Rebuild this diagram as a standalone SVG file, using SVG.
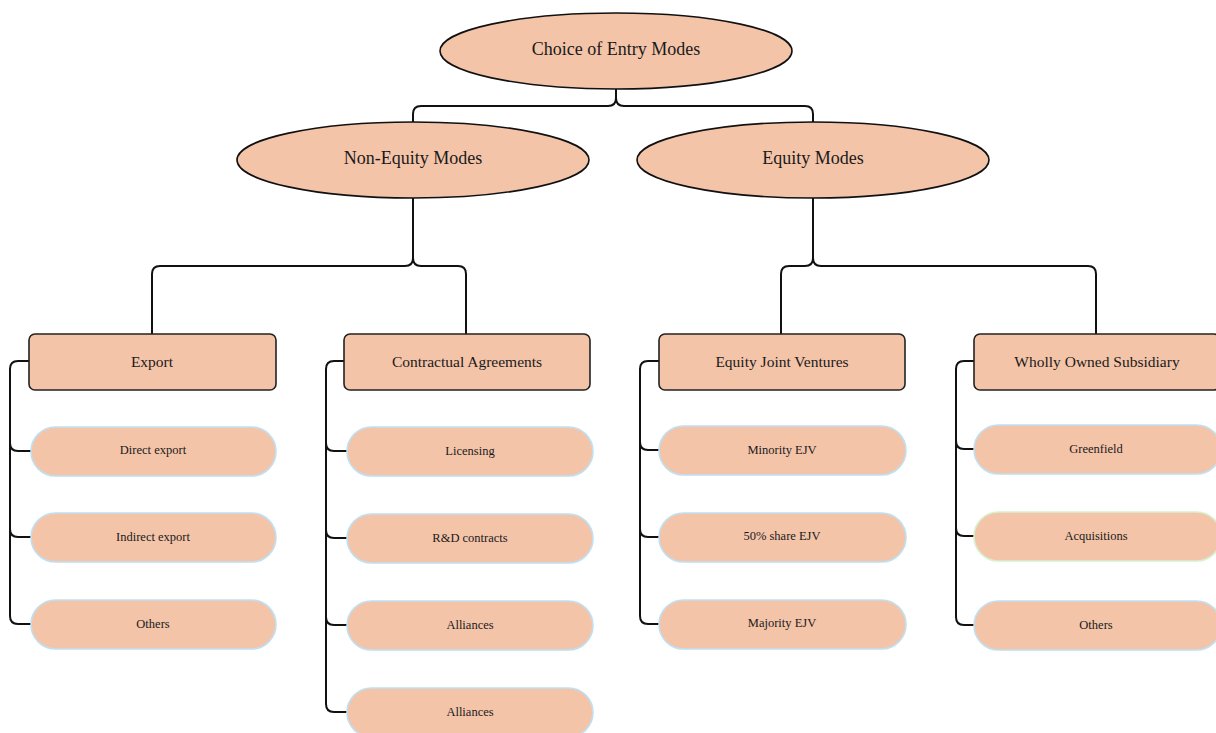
<svg xmlns="http://www.w3.org/2000/svg" width="1216" height="733" viewBox="0 0 1216 733">
<style>
.ell{fill:#f4c4a9;stroke:#111;stroke-width:1.6}
.box{fill:#f4c4a9;stroke:#222;stroke-width:1.6}
.pill{fill:#f4c4a9;stroke:#bfe0f2;stroke-width:1.6}
.pillg{fill:#f4c4a9;stroke:#d6f0cf;stroke-width:1.6}
.con{fill:none;stroke:#111;stroke-width:2}
text{font-family:"Liberation Serif","Times New Roman",serif;fill:#1a1a1a;text-anchor:middle;dominant-baseline:central}
.t1{font-size:18px}
.t2{font-size:15.5px}
.t3{font-size:12.5px}
</style>
<rect width="1216" height="733" fill="#fff"/>
<g id="connectors">
<path class="con" d="M616 89 V98 Q616 106 608 106 H421 Q413 106 413 114 V124 M616 98 Q616 106 624 106 H805 Q813 106 813 114 V124"/>
<path class="con" d="M413 197 V258 Q413 266 405 266 H160 Q152 266 152 274 V334 M413 258 Q413 266 421 266 H458 Q466 266 466 274 V334"/>
<path class="con" d="M813 197 V258 Q813 266 805 266 H789 Q781 266 781 274 V334 M813 258 Q813 266 821 266 H1088 Q1096 266 1096 274 V334"/>
<path class="con" d="M29 361 H18 Q10 361 10 369 V616 Q10 624 18 624 H31 M10 443 Q10 451 18 451 H31 M10 529 Q10 537 18 537 H31"/>
<path class="con" d="M344 361 H334 Q326 361 326 369 V704 Q326 712 334 712 H347 M326 443 Q326 451 334 451 H347 M326 530 Q326 538 334 538 H347 M326 617 Q326 625 334 625 H347"/>
<path class="con" d="M659 361 H648 Q640 361 640 369 V616 Q640 624 648 624 H659 M640 442 Q640 450 648 450 H659 M640 529 Q640 537 648 537 H659"/>
<path class="con" d="M974 361 H964 Q956 361 956 369 V617 Q956 625 964 625 H974 M956 441 Q956 449 964 449 H974 M956 528 Q956 536 964 536 H974"/>
</g>
<g id="root"><ellipse class="ell" cx="616" cy="51" rx="176" ry="38"/><text class="t1" x="616" y="49">Choice of Entry Modes</text></g>
<g id="nonequity"><ellipse class="ell" cx="413" cy="160" rx="176" ry="38"/><text class="t1" x="413" y="158">Non-Equity Modes</text></g>
<g id="equity"><ellipse class="ell" cx="813" cy="160" rx="176" ry="38"/><text class="t1" x="813" y="158">Equity Modes</text></g>
<g id="export"><rect class="box" x="29" y="334" width="247" height="56" rx="6"/><text class="t2" x="152" y="361">Export</text></g>
<g id="contractual"><rect class="box" x="344" y="334" width="246" height="56" rx="6"/><text class="t2" x="467" y="361">Contractual Agreements</text></g>
<g id="ejv"><rect class="box" x="659" y="334" width="246" height="56" rx="6"/><text class="t2" x="782" y="361">Equity Joint Ventures</text></g>
<g id="wos"><rect class="box" x="974" y="334" width="246" height="56" rx="6"/><text class="t2" x="1097" y="361">Wholly Owned Subsidiary</text></g>
<g id="direct"><rect class="pill" x="31" y="427" width="245" height="49" rx="24.5"/><text class="t3" x="153" y="450">Direct export</text></g>
<g id="indirect"><rect class="pill" x="31" y="513" width="245" height="49" rx="24.5"/><text class="t3" x="153" y="537">Indirect export</text></g>
<g id="others1"><rect class="pill" x="31" y="600" width="245" height="49" rx="24.5"/><text class="t3" x="153" y="624">Others</text></g>
<g id="licensing"><rect class="pill" x="347" y="427" width="246" height="49" rx="24.5"/><text class="t3" x="470" y="451">Licensing</text></g>
<g id="rd"><rect class="pill" x="347" y="514" width="246" height="49" rx="24.5"/><text class="t3" x="470" y="538">R&amp;D contracts</text></g>
<g id="alliances1"><rect class="pill" x="347" y="601" width="246" height="49" rx="24.5"/><text class="t3" x="470" y="625">Alliances</text></g>
<g id="alliances2"><rect class="pill" x="347" y="688" width="246" height="49" rx="24.5"/><text class="t3" x="470" y="712">Alliances</text></g>
<g id="minority"><rect class="pill" x="659" y="426" width="247" height="49" rx="24.5"/><text class="t3" x="782" y="450">Minority EJV</text></g>
<g id="fifty"><rect class="pill" x="659" y="513" width="247" height="49" rx="24.5"/><text class="t3" x="782" y="536">50% share EJV</text></g>
<g id="majority"><rect class="pill" x="659" y="600" width="247" height="49" rx="24.5"/><text class="t3" x="782" y="623">Majority EJV</text></g>
<g id="greenfield"><rect class="pill" x="974" y="425" width="247" height="49" rx="24.5"/><text class="t3" x="1096" y="449">Greenfield</text></g>
<g id="acquisitions"><rect class="pillg" x="974" y="512" width="247" height="49" rx="24.5"/><text class="t3" x="1096" y="536">Acquisitions</text></g>
<g id="others2"><rect class="pill" x="974" y="601" width="247" height="49" rx="24.5"/><text class="t3" x="1096" y="625">Others</text></g>
</svg>
